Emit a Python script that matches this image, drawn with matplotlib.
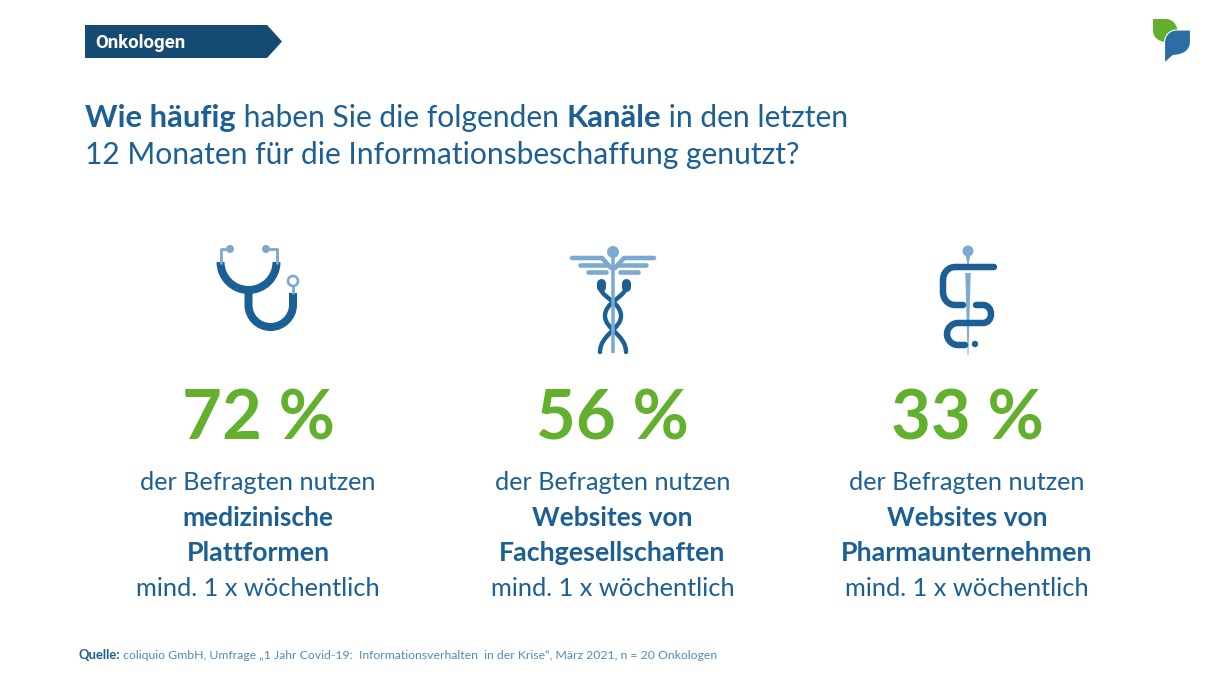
import matplotlib
matplotlib.use("Agg")
import matplotlib.pyplot as plt
from matplotlib.path import Path
from matplotlib.patches import PathPatch, Polygon, Circle

W, H = 1210, 680
FONT = "Lato"
DARK = "#1b5f95"
LIGHT = "#7ba9d2"
GREEN = "#62b02e"
NAVY = "#154a72"

badge = "Onkologen"
title_runs = [[("Wie häufig", True), (" haben Sie die folgenden ", False), ("Kanäle", True), (" in den letzten", False)],
              [("12 Monaten für die Informationsbeschaffung genutzt?", False)]]
percents = [72, 56, 33]
lead = ["der Befragten nutzen"] * 3
bold_1 = ["medizinische", "Websites von", "Websites von"]
bold_2 = ["Plattformen", "Fachgesellschaften", "Pharmaunternehmen"]
tail = ["mind. 1 x wöchentlich"] * 3
source_runs = [("Quelle:", True),
               (" coliquio GmbH, Umfrage „1 Jahr Covid-19:  Informationsverhalten  in der Krise“, März 2021, n = 20 Onkologen", False)]

fig = plt.figure(figsize=(W / 100, H / 100), dpi=100)
ax = fig.add_axes([0, 0, 1, 1])
ax.set_xlim(0, W)
ax.set_ylim(H, 0)
ax.axis("off")


def runs(x, y, parts, size, color, bold_size=None, bold_color=None):
    r = fig.canvas.get_renderer()
    for s, b in parts:
        t = ax.text(x, y, s.replace(" ", "\u00a0"), fontsize=(bold_size or size) if b else size,
                    color=(bold_color or color) if b else color, family=FONT,
                    fontweight="bold" if b else "normal", va="baseline", ha="left")
        x += t.get_window_extent(r).width


def line(pts, color, lw, cap="round", join="round"):
    xs, ys = zip(*pts)
    ax.plot(xs, ys, color=color, lw=lw * 0.72, solid_capstyle=cap, solid_joinstyle=join)


def curve(verts, codes, color, lw, cap="round"):
    ax.add_patch(PathPatch(Path(verts, codes), fc="none", ec=color, lw=lw * 0.72, capstyle=cap, joinstyle="round"))


M, L, C4, Z = Path.MOVETO, Path.LINETO, Path.CURVE4, Path.CLOSEPOLY
K = 0.5523

# banner
ax.add_patch(Polygon([(85, 25), (267, 25), (282, 41.5), (267, 58), (85, 58)], fc=NAVY, ec="none"))
ax.text(95, 47.5, badge, color="white", fontsize=13.4, fontweight="bold", family="Roboto", va="baseline")

# logo
ax.add_patch(PathPatch(Path([(1153, 19), (1166, 19), (1176, 19), (1179, 30), (1179, 43), (1165, 43), (1153, 42), (1153, 30), (1153, 19), (1153, 19)],
                            [M, L, C4, C4, L, L, C4, C4, C4, Z][:3] + [C4, L, C4, C4, C4, L, Z]), fc=GREEN, ec="none"))
ax.add_patch(PathPatch(Path([(1190.5, 30), (1177, 30), (1170, 30), (1164.5, 35), (1164.5, 43), (1164.5, 63), (1173, 55.5), (1184, 55), (1190.5, 50), (1190.5, 42), (1190.5, 30), (1190.5, 30)],
                            [M, L, C4, C4, C4, L, L, C4, C4, C4, L, Z]), fc="#2c6ea3", ec="white", lw=0.8))

# titles
runs(85, 127, title_runs[0], 21.6, DARK, bold_size=22.3)
runs(85, 164, title_runs[1], 21.6, DARK)

# columns
centers = [258, 612.5, 967]
for cx, p, a, b, c, d in zip(centers, percents, lead, bold_1, bold_2, tail):
    ax.text(cx, 439, f"{p} %", color=GREEN, fontsize=49.5, fontweight="bold", family=FONT, ha="center", va="baseline")
    ax.text(cx, 490, a, color=DARK, fontsize=18.2, family=FONT, ha="center", va="baseline")
    ax.text(cx, 526, b, color=DARK, fontsize=19, fontweight="bold", family=FONT, ha="center", va="baseline")
    ax.text(cx, 561, c, color=DARK, fontsize=19.3, fontweight="bold", family=FONT, ha="center", va="baseline")
    ax.text(cx, 596, d, color=DARK, fontsize=18.3, family=FONT, ha="center", va="baseline")

# source
runs(78.5, 659, source_runs, 8.85, "#4f8cbf", bold_size=9.4, bold_color=DARK)

# stethoscope
line([(230, 249), (220.5, 249), (220.5, 263)], LIGHT, 2.8)
line([(266, 249), (277, 249), (277, 263)], LIGHT, 2.8)
ax.add_patch(Circle((230, 249), 4, fc=LIGHT, ec="none"))
ax.add_patch(Circle((266, 249), 4, fc=LIGHT, ec="none"))
curve([(220.5, 262), (220.5, 262 + 28 * K), (248.5 - 28 * K, 290), (248.5, 290),
       (248.5 + 28 * K, 290), (276.5, 262 + 28 * K), (276.5, 262)], [M, C4, C4, C4, C4, C4, C4], DARK, 8, "butt")
curve([(248.5, 290), (248.5, 305), (248.5, 305 + 22 * K), (270.5 - 22 * K, 327), (270.5, 327),
       (270.5 + 22 * K, 327), (293, 305 + 22 * K), (293, 305), (293, 293)], [M, L, C4, C4, C4, C4, C4, C4, L], DARK, 8, "butt")
line([(293, 286), (293, 294)], LIGHT, 2.8, "butt")
ax.add_patch(Circle((293, 281), 5, fc="white", ec=LIGHT, lw=1.9))

# caduceus
line([(613, 252), (613, 353)], LIGHT, 3.5, "butt")
ax.add_patch(Circle((613, 252), 6, fc=LIGHT, ec="none"))
for sgn in (-1, 1):
    line([(613 + sgn * 41, 258), (613 + sgn * 11, 258), (613 + sgn * 2, 268)], LIGHT, 4.6)
    line([(613 + sgn * 33, 265), (613 + sgn * 6, 265)], LIGHT, 4.6)
    line([(613 + sgn * 25, 272), (613 + sgn * 7, 272)], LIGHT, 4.6)
    line([(613 + sgn * 12.5, 283), (613 + sgn * 12.5, 287)], DARK, 9)
    curve([(613 + sgn * 12, 290), (613 + sgn * 9, 298), (613 - sgn * 8, 303), (613 - sgn * 8, 316),
           (613 - sgn * 8, 329), (613 + sgn * 13, 335), (613 + sgn * 13, 352)],
          [M, C4, C4, C4, C4, C4, C4], DARK, 4.4)

# rod of asclepius
ax.add_patch(Polygon([(965.3, 273), (970.7, 273), (968.4, 355), (967.6, 355)], fc=LIGHT, ec="none"))
ax.add_patch(Polygon([(965.5, 254), (970.5, 254), (968, 267)], fc=LIGHT, ec="none"))
ax.add_patch(Circle((968, 251), 5.5, fc=LIGHT, ec="none"))
curve([(994, 267), (955, 267), (948, 267), (943, 273), (943, 280), (943, 292), (943, 299), (948, 305), (955, 305), (963, 305)],
      [M, L, C4, C4, C4, L, C4, C4, C4, L], DARK, 6.5)
curve([(976, 305), (983, 305), (988, 305), (991, 309), (991, 314), (991, 319), (988, 323), (983, 323),
       (958, 323), (952, 323), (947, 328), (947, 334), (947, 340), (952, 345), (958, 345), (965, 345)],
      [M, L, C4, C4, C4, C4, C4, C4, L, C4, C4, C4, C4, C4, C4, L], DARK, 6.5)
ax.add_patch(Circle((975, 344), 3.2, fc=DARK, ec="none"))

fig.savefig("out.png", dpi=100)
